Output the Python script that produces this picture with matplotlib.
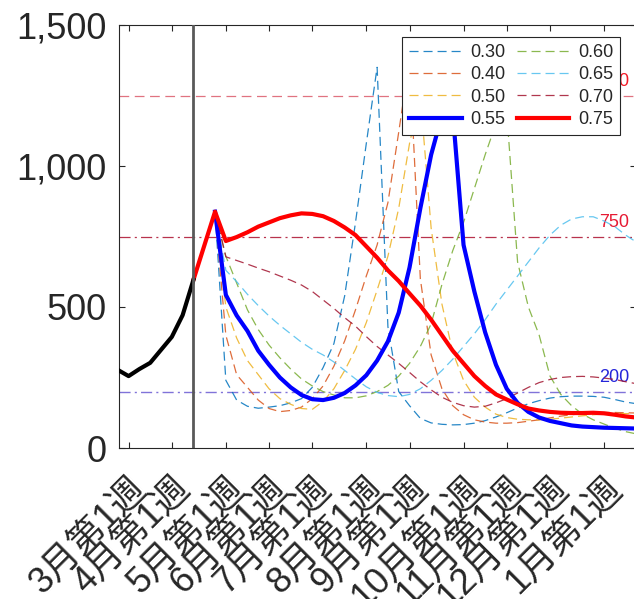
import matplotlib
matplotlib.use('Agg')
import matplotlib.pyplot as plt
import matplotlib.transforms as mtransforms
from matplotlib.ticker import FuncFormatter

# 日本語の目盛ラベル用
plt.rcParams['font.family'] = ['Liberation Sans', 'Noto Sans CJK JP']
plt.rcParams['lines.scale_dashes'] = False

# 週番号 (3月第1週 = 0)
tick_weeks = [0, 4, 9, 13, 17, 22, 26, 31, 35, 39, 44]
tick_labels = ['3月第1週', '4月第1週', '5月第1週', '6月第1週', '7月第1週', '8月第1週',
               '9月第1週', '10月第1週', '11月第1週', '12月第1週', '1月第1週']
now_week = 6

# 実績 (第-1週から第6週)
obs_start = -1
observed = [277, 255, 280, 302, 348, 394, 471, 596]

# 予測 (第8週から、0.75 だけ第6週から)
pred_start = 8
r030 = [838, 240, 170, 148, 141, 145, 150, 160, 175, 215,
        285, 370, 540, 800, 1080, 1350, 430, 200, 150, 105,
        89, 84, 82, 83, 88, 97, 110, 125, 142, 157,
        168, 177, 182, 184, 184, 183, 180, 172, 163, 157]
r040 = [838, 400, 260, 215, 170, 140, 129, 133, 145, 175,
        220, 290, 380, 490, 610, 720, 870, 1120, 1380, 600,
        330, 210, 150, 118, 100, 92, 88, 88, 90, 95,
        100, 107, 113, 118, 122, 125, 126, 126, 125, 124]
r050 = [838, 500, 390, 310, 260, 210, 175, 155, 140, 137,
        165, 210, 275, 350, 445, 560, 680, 850, 1080, 1250,
        780, 510, 340, 240, 180, 145, 120, 108, 102, 100,
        100, 102, 106, 110, 114, 118, 120, 122, 122, 122]
r055 = [838, 543, 470, 415, 345, 295, 250, 215, 188, 173,
        170, 178, 195, 222, 258, 310, 378, 480, 640, 850,
        1040, 1180, 1190, 720, 555, 410, 295, 210, 160, 128,
        108, 96, 88, 80, 76, 74, 72, 71, 70, 69]
r060 = [838, 680, 585, 490, 420, 365, 320, 280, 245, 220,
        200, 188, 178, 178, 185, 200, 222, 255, 300, 360,
        440, 580, 700, 800, 920, 1040, 1150, 1190, 660, 500,
        400, 255, 190, 150, 120, 100, 85, 70, 58, 50]
r065 = [838, 630, 590, 545, 505, 468, 435, 405, 375, 350,
        330, 305, 275, 245, 217, 197, 186, 182, 190, 210,
        240, 275, 315, 360, 405, 455, 510, 560, 610, 660,
        710, 755, 790, 812, 820, 820, 805, 785, 755, 730]
r070 = [838, 678, 665, 652, 638, 625, 610, 595, 578, 555,
        525, 495, 462, 432, 395, 360, 330, 300, 268, 235,
        206, 180, 162, 150, 145, 148, 160, 175, 195, 215,
        232, 243, 250, 253, 254, 252, 248, 243, 235, 228]
r075_start = 6
r075 = [596, 717, 838, 734, 748, 765, 785, 800, 815, 825,
        832, 830, 822, 805, 782, 755, 715, 675, 630, 592,
        548, 505, 455, 400, 345, 300, 255, 220, 190, 172,
        155, 140, 133, 128, 125, 124, 124, 125, 123, 118,
        112, 108]

# 基準線
ref_levels = [1250, 750, 200]
ref_texts = ['1250', '750', '200']

mat_blue = (0.0, 0.447, 0.741)
mat_orange = (0.85, 0.325, 0.098)
mat_yellow = (0.929, 0.694, 0.125)
mat_green = (0.466, 0.674, 0.188)
mat_cyan = (0.301, 0.745, 0.933)
mat_maroon = (0.635, 0.078, 0.184)
dark = (0.15, 0.15, 0.15)

fig = plt.figure(figsize=(6.34, 5.99), dpi=100)
ax = fig.add_axes([119 / 634, 151 / 599, 517 / 634, 423 / 599])


def weeks(start, vals):
    return list(range(start, start + len(vals)))


# 基準線
ax.axhline(ref_levels[0], color=(0.88, 0.45, 0.5), lw=0.9, ls=(0, (7, 4)), zorder=1)
ax.axhline(ref_levels[1], color=(0.72, 0.2, 0.3), lw=0.9, ls=(0, (8, 3, 1.5, 3)), zorder=1)
ax.axhline(ref_levels[2], color=(0.5, 0.45, 0.85), lw=1.0, ls=(0, (8, 3, 1.5, 3)), zorder=1)
ref_colors = [(0.95, 0.1, 0.15), (0.9, 0.1, 0.2), (0.15, 0.15, 0.85)]
for lvl, txt, c in zip(ref_levels, ref_texts, ref_colors):
    ax.text(0.987, lvl + 50, txt, color=c, fontsize=13, ha='right', va='center',
            transform=ax.get_yaxis_transform(), zorder=2)

ax.axvline(now_week, color=(0.35, 0.35, 0.35), lw=2.0, zorder=4)

dash = (0, (6.5, 3.6))
a = 0.85
h = {}
h['0.30'], = ax.plot(weeks(pred_start, r030), r030, color=mat_blue, lw=0.9, ls=dash, alpha=a)
h['0.40'], = ax.plot(weeks(pred_start, r040), r040, color=mat_orange, lw=0.9, ls=dash, alpha=a)
h['0.50'], = ax.plot(weeks(pred_start, r050), r050, color=mat_yellow, lw=0.9, ls=dash, alpha=a)
h['0.60'], = ax.plot(weeks(pred_start, r060), r060, color=mat_green, lw=0.9, ls=dash, alpha=a)
h['0.65'], = ax.plot(weeks(pred_start, r065), r065, color=mat_cyan, lw=0.9, ls=dash, alpha=a)
h['0.70'], = ax.plot(weeks(pred_start, r070), r070, color=mat_maroon, lw=0.9, ls=dash, alpha=a)
h['0.55'], = ax.plot(weeks(pred_start, r055), r055, color='blue', lw=3.0, zorder=3)
h['0.75'], = ax.plot(weeks(r075_start, r075), r075, color='red', lw=3.0, zorder=3)
ax.plot(weeks(obs_start, observed), observed, color='black', lw=3.0, zorder=3)

ax.set_xlim(-0.888, 46.96)
ax.set_ylim(0, 1500)
ax.set_yticks([0, 500, 1000, 1500])
ax.yaxis.set_major_formatter(FuncFormatter(lambda v, p: f'{int(v):,}'))
ax.set_xticks(tick_weeks)
ax.set_xticklabels(tick_labels, rotation=45, ha='right', va='top', rotation_mode='anchor')
# ラベルを少し右へ
shift = mtransforms.ScaledTranslation(4 / 100, 0, fig.dpi_scale_trans)
for lab in ax.get_xticklabels():
    lab.set_transform(lab.get_transform() + shift)

ax.tick_params(direction='in', length=4, width=0.8, color=dark, labelcolor=dark,
               labelsize=26, top=True, right=True)
ax.tick_params(axis='y', pad=9)
ax.tick_params(axis='x', pad=16)
for s in ax.spines.values():
    s.set_color(dark)
    s.set_linewidth(0.8)

order = ['0.30', '0.40', '0.50', '0.55', '0.60', '0.65', '0.70', '0.75']
leg = ax.legend([h[k] for k in order], order, ncol=2, loc='upper right',
                bbox_to_anchor=(620 / 634, 1 - 37 / 599), bbox_transform=fig.transFigure,
                fontsize=13, fancybox=False, framealpha=1, edgecolor=dark,
                handlelength=2.9, handletextpad=0.5, columnspacing=0.6,
                labelspacing=0.3, borderpad=0.38, borderaxespad=0)
leg.get_frame().set_linewidth(0.8)
leg.set_zorder(10)
for t in leg.get_texts():
    t.set_color(dark)

fig.savefig('out.png', dpi=100)
